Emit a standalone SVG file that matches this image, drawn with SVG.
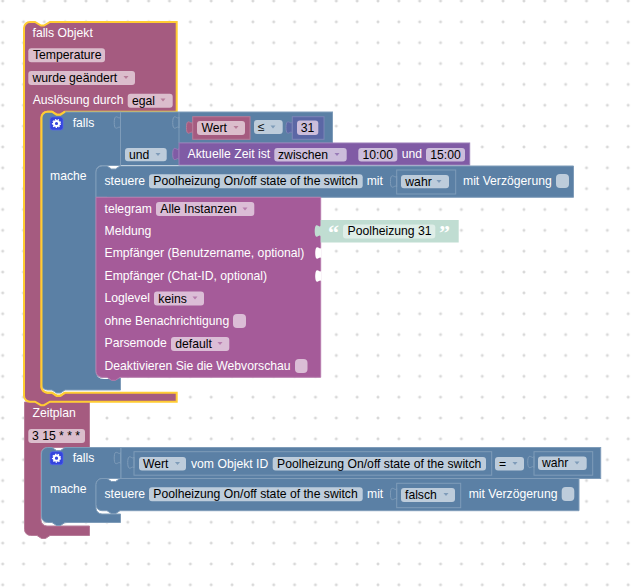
<svg xmlns="http://www.w3.org/2000/svg" width="632" height="587" viewBox="0 0 632 587">
<style>
text{font-family:"Liberation Sans",Arial,sans-serif;font-size:12.2px}
.l{fill:#fff}
.v{fill:#000}
.blue{fill:#5b80a5;stroke:#7f9cb9;stroke-width:1}
.red{fill:#a55b80;stroke:#b77c99;stroke-width:1}
.sel{fill:#a55b80;stroke:#fc3;stroke-width:2}
.hl{fill:none;stroke:#fc3;stroke-width:2}
.tg{fill:#a55b99;stroke:#b77cad;stroke-width:1}
.vio{fill:#805ba5;stroke:#997cb7;stroke-width:1}
.num{fill:#5b67a5;stroke:#7c85b7;stroke-width:1}
.grn{fill:#c0ddd2}
.fb{fill:#bdccdb}
.fr{fill:#dbbdcc}
.fv{fill:#ccbddb}
.ft{fill:#dbbdd6}
.fg{fill:#dfeee8}
.sock{fill:none;stroke:#7f9cb9;stroke-width:1}
.ab{fill:#7f9cb9}
.ar{fill:#b77c99}
.av{fill:#997cb7}
.at{fill:#b77cad}
</style>
<defs>
<pattern id="grid" x="2.7" y="1" width="20.85" height="20.85" patternUnits="userSpaceOnUse">
<path d="M0,-1.5V1.5M-1.5,0H1.5M20.85,-1.5V1.5M19.35,0H22.35M0,19.35V22.35M-1.5,20.85H1.5M20.85,19.35V22.35M19.35,20.85H22.35" stroke="#ccc" stroke-width="1" fill="none"/>
</pattern>
<path id="tab" d="M0,-5.5c-1.5,2.5-3,-1-5,0c-1.7,1-1.7,10 0,11c2,1 3.5,-2.5 5,0z"/>
<path id="dd" d="M-2.5,-1.5H2.5L0,1.5z"/>
<g id="gear"><rect x="0" y="0" width="13" height="13" rx="2.5" fill="#3344dd" stroke="#5566ee" stroke-width=".7"/><circle cx="6.5" cy="6.5" r="2.6" fill="none" stroke="#fff" stroke-width="2"/><circle cx="6.5" cy="6.5" r="4" fill="none" stroke="#fff" stroke-width="1.2" stroke-dasharray="1.4 1.4"/></g>
</defs>
<rect width="632" height="587" fill="#fff"/>
<rect width="632" height="587" fill="url(#grid)"/>

<g id="connectors"></g>

<g id="zeitplan">
<path class="red" d="M24.5,402H89.5V447.5H47a6,6 0 0 0-6,6V520a6,6 0 0 0 6,6H89.5V535.5H50l-4.5,3h-4l-4.5,-3H30.5a6,6 0 0 1-6,-6Z"/>
<text class="l" x="32.5" y="417">Zeitplan</text>
<rect class="fr" x="28.3" y="429" width="56.7" height="14" rx="3"/>
<text class="v" x="32" y="440">3 15 * * *</text>
</g>

<g id="falls2">
<path class="blue" d="M41.5,453.5a6,6 0 0 1 6,-6H52l4.5,3h4l4.5,-3H121V478.5H102a6,6 0 0 0-6,6V508a6,6 0 0 0 6,6H120.5V522.5H65l-4.5,3h-4l-4.5,-3H47.5a6,6 0 0 1-6,-6Z"/>
<use href="#gear" x="50" y="451.7"/>
<text class="l" x="72.7" y="461.7">falls</text>
<text class="l" x="50" y="493">mache</text>
<use href="#tab" class="sock" x="120.5" y="458"/>
<path d="M96,505q0,8 8,8h8v-1h-8q-8,0-8,-6z" fill="#fff"/>
</g>
<g id="compare2">
<rect class="blue" x="121" y="447.5" width="479.7" height="31"/>
<rect class="blue" x="134" y="451.7" width="357.7" height="23.5"/>
<use href="#tab" class="sock" x="134" y="462.5"/>
<rect class="fb" x="139" y="457" width="47" height="13.5" rx="3"/>
<text class="v" x="143" y="467.5">Wert</text>
<use href="#dd" class="ab" x="177.5" y="463.5"/>
<text class="l" x="191" y="467.5">vom Objekt ID</text>
<rect class="fb" x="272.7" y="457" width="213.3" height="13.5" rx="3"/>
<text class="v" x="277" y="467.5">Poolheizung On/off state of the switch</text>
<rect class="fb" x="495" y="457" width="29" height="13.5" rx="3"/>
<text class="v" x="499" y="467.5">=</text>
<use href="#dd" class="ab" x="515" y="463.5"/>
<rect class="blue" x="534" y="451.7" width="58.7" height="23.5"/>
<use href="#tab" class="sock" x="534" y="462"/>
<rect class="fb" x="538" y="456.5" width="48.7" height="13.5" rx="3"/>
<text class="v" x="542" y="467">wahr</text>
<use href="#dd" class="ab" x="577" y="463"/>
</g>
<g id="steuere2">
<path class="blue" d="M96,484.5a6,6 0 0 1 6,-6H107l4.5,3h4l4.5,-3H579V510.7H120l-4.5,3h-4l-4.5,-3H102a6,6 0 0 1-6,-6Z"/>
<text class="l" x="104.5" y="498">steuere</text>
<rect class="fb" x="149" y="487.3" width="213.7" height="14" rx="3"/>
<text class="v" x="153.3" y="498">Poolheizung On/off state of the switch</text>
<text class="l" x="367" y="498">mit</text>
<rect class="blue" x="396.7" y="483.3" width="64" height="24.4"/>
<use href="#tab" class="sock" x="396.7" y="494"/>
<rect class="fb" x="401" y="488" width="54" height="14" rx="3"/>
<text class="v" x="405" y="499">falsch</text>
<use href="#dd" class="ab" x="446" y="494.5"/>
<text class="l" x="468.7" y="498">mit Verzögerung</text>
<rect class="fb" x="561.7" y="487" width="12.6" height="14" rx="4"/>
</g>

<g id="objekt">
<path class="sel" d="M24,28a6,6 0 0 1 6,-6H35l6,3.5h3l6,-3.5H176.7V111.7H65l-4.5,3h-4l-4.5,-3H47.5a6,6 0 0 0-6,6V386a6,6 0 0 0 6,6.7H52l4.5,3h4l4.5,-3H176.7V401.7H50l-6,3.5h-3l-6,-3.5H30a6,6 0 0 1-6,-6Z"/>
<text class="l" x="32.5" y="37">falls Objekt</text>
<rect class="fr" x="28.3" y="48.3" width="76.7" height="14" rx="3"/>
<text class="v" x="33" y="59">Temperature</text>
<rect class="fr" x="28.3" y="71" width="106.7" height="14" rx="3"/>
<text class="v" x="32.5" y="82">wurde geändert</text>
<use href="#dd" class="ar" x="126" y="77.5"/>
<text class="l" x="32.7" y="104">Auslösung durch</text>
<rect class="fr" x="127.7" y="93.7" width="45" height="14" rx="3"/>
<text class="v" x="132" y="104.5">egal</text>
<use href="#dd" class="ar" x="163" y="100"/>
</g>

<g id="falls1">
<path class="blue" d="M41.5,118a6,6 0 0 1 6,-6H52l4.5,3h4l4.5,-3H120.5V165.5H102a6,6 0 0 0-6,6V372a6,6 0 0 0 6,6H120.5V390H65l-4.5,3h-4l-4.5,-3H47.5a6,6 0 0 1-6,-6Z"/>
<path class="hl" d="M65,111.7l-4.5,3h-4l-4.5,-3H47.5a6,6 0 0 0-6,6V386a6,6 0 0 0 6,6.7H52l4.5,3h4l4.5,-3"/>
<use href="#gear" x="50" y="117"/>
<text class="l" x="72.7" y="127">falls</text>
<text class="l" x="50" y="180">mache</text>
<use href="#tab" class="sock" x="120.5" y="122.5"/>
<path d="M96,371q0,8 8,8h8v-1h-8q-8,0-8,-6z" fill="#fff"/>
</g>
<g id="und">
<rect class="blue" x="120.5" y="112" width="212" height="31"/>
<rect x="121" y="142" width="59" height="23" fill="#5b80a5"/>
<path d="M179,112V143" stroke="#7f9cb9" fill="none"/>
<use href="#tab" class="sock" x="179" y="122.5"/>
<rect class="fb" x="125" y="148" width="41.7" height="13.3" rx="3"/>
<text class="v" x="129" y="158.5">und</text>
<use href="#dd" class="ab" x="158" y="154.5"/>
</g>
<g id="wert1">
<use href="#tab" class="red" x="192.7" y="127.5"/>
<rect class="red" x="192.7" y="116.7" width="57.3" height="22.6"/>
<rect class="fr" x="197" y="121" width="48" height="14" rx="3"/>
<text class="v" x="201.5" y="132">Wert</text>
<use href="#dd" class="ar" x="236" y="127.5"/>
</g>
<g id="vergleich">
<rect class="fb" x="254" y="120" width="28.7" height="14" rx="3"/>
<text class="v" x="258" y="131">≤</text>
<use href="#dd" class="ab" x="273" y="127"/>
</g>
<g id="zahl">
<use href="#tab" class="num" x="292.3" y="127.5"/>
<rect class="num" x="292.3" y="116.7" width="31.7" height="22.6"/>
<rect class="fv" x="297" y="120.5" width="21.3" height="14.5" rx="3"/>
<text class="v" x="307.6" y="132" text-anchor="middle">31</text>
</g>
<g id="zeit">
<use href="#tab" class="vio" x="179" y="154"/>
<rect class="vio" x="179" y="143" width="290.7" height="22"/>
<text class="l" x="187.5" y="158">Aktuelle Zeit ist</text>
<rect class="fv" x="274.3" y="148" width="72.4" height="13.6" rx="3"/>
<text class="v" x="278" y="158.5">zwischen</text>
<use href="#dd" class="av" x="337" y="154.5"/>
<rect class="fv" x="358.3" y="148" width="39" height="13.6" rx="3"/>
<text class="v" x="377.8" y="158.5" text-anchor="middle">10:00</text>
<text class="l" x="401.7" y="158">und</text>
<rect class="fv" x="426" y="148" width="39" height="13.6" rx="3"/>
<text class="v" x="445.5" y="158.5" text-anchor="middle">15:00</text>
</g>
<g id="steuere1">
<path class="blue" d="M96,172a6,6 0 0 1 6,-6H107l4.5,3h4l4.5,-3H573.5V197.3H120l-4.5,3h-4l-4.5,-3H96Z"/>
<text class="l" x="104.5" y="185">steuere</text>
<rect class="fb" x="149" y="174.3" width="213.7" height="14" rx="3"/>
<text class="v" x="153.3" y="185">Poolheizung On/off state of the switch</text>
<text class="l" x="366.7" y="185">mit</text>
<rect class="blue" x="396.7" y="170" width="59" height="24"/>
<use href="#tab" class="sock" x="396.7" y="181.5"/>
<rect class="fb" x="401" y="175" width="48" height="13.3" rx="3"/>
<text class="v" x="405.3" y="186">wahr</text>
<use href="#dd" class="ab" x="439" y="181.5"/>
<text class="l" x="463" y="185">mit Verzögerung</text>
<rect class="fb" x="556" y="174" width="13" height="14" rx="4"/>
</g>
<g id="telegram">
<path class="tg" d="M96,197.3H320.7V377.3H120l-4.5,3h-4l-4.5,-3H102a6,6 0 0 1-6,-6Z"/>
<text class="l" x="104.5" y="213">telegram</text>
<rect class="ft" x="156" y="202" width="98.3" height="14" rx="3"/>
<text class="v" x="160.3" y="213">Alle Instanzen</text>
<use href="#dd" class="at" x="245" y="209"/>
<text class="l" x="104.5" y="235">Meldung</text>
<text class="l" x="104.5" y="257">Empfänger (Benutzername, optional)</text>
<use href="#tab" fill="#fff" x="321.5" y="253"/>
<text class="l" x="104.5" y="280">Empfänger (Chat-ID, optional)</text>
<use href="#tab" fill="#fff" x="321.5" y="276"/>
<text class="l" x="104.5" y="302">Loglevel</text>
<rect class="ft" x="154" y="291.5" width="50" height="14" rx="3"/>
<text class="v" x="158.3" y="302.5">keins</text>
<use href="#dd" class="at" x="195" y="298"/>
<text class="l" x="104.5" y="325">ohne Benachrichtigung</text>
<rect class="ft" x="233" y="314" width="13" height="14" rx="4"/>
<text class="l" x="104.5" y="347">Parsemode</text>
<rect class="ft" x="171" y="337" width="58.3" height="14" rx="3"/>
<text class="v" x="175.3" y="348">default</text>
<use href="#dd" class="at" x="220" y="343.5"/>
<text class="l" x="104.5" y="370">Deaktivieren Sie die Webvorschau</text>
<rect class="ft" x="295" y="359" width="12.5" height="14" rx="4"/>
</g>
<g id="text31">
<use href="#tab" class="grn" x="321" y="231"/>
<rect class="grn" x="320.7" y="220" width="138" height="22.5"/>
<text class="l" x="328" y="240" style="font-family:'Liberation Serif',serif;font-size:22px;font-weight:bold">“</text>
<rect class="fg" x="343" y="224.5" width="92.3" height="14" rx="3"/>
<text class="v" x="347.5" y="235">Poolheizung 31</text>
<text class="l" x="439" y="240" style="font-family:'Liberation Serif',serif;font-size:22px;font-weight:bold">”</text>
</g>
</svg>
